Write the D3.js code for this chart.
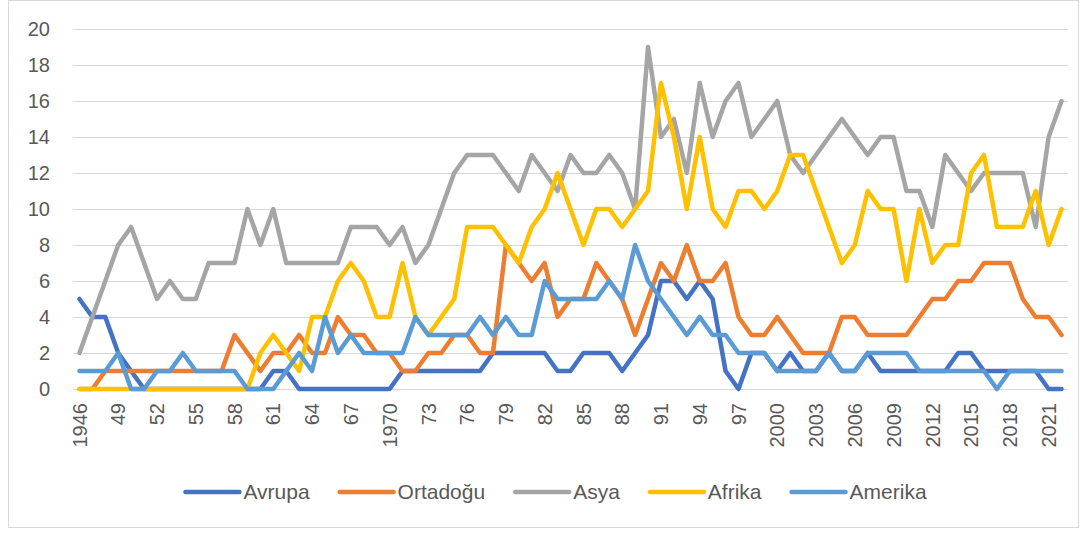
<!DOCTYPE html>
<html>
<head>
<meta charset="utf-8">
<script src="https://cdn.jsdelivr.net/npm/d3@7"></script>
<style>
  body { margin: 0; background: #fff; }
  text { font-family: "Liberation Sans", Arial, sans-serif; fill: #595959; }
</style>
</head>
<body>
<svg id="chart"></svg>
<script>
var width = 1089,
    height = 534;

// categories: one per year
var years = d3.range(1946, 2023);

// labels shown on the category axis (every 3rd year)
var tickLabels = ["1946", "49", "52", "55", "58", "61", "64", "67", "1970", "73", "76", "79", "82",
                  "85", "88", "91", "94", "97", "2000", "2003", "2006", "2009", "2012", "2015", "2018", "2021"];

var yTicks = [0, 2, 4, 6, 8, 10, 12, 14, 16, 18, 20];

var avrupa = [5,4,4,2,1,0,0,0,0,0, 0,0,0,0,0,1,1,0,0,0, 0,0,0,0,0,1,1,1,1,1,
              1,1,2,2,2,2,2,1,1,2, 2,2,1,2,3,6,6,5,6,5, 1,0,2,2,1,2,1,1,2,1,
              1,2,1,1,1,1,1,1,2,2, 1,1,1,1,1,0,0];
var ortadogu = [0,0,1,1,1,1,1,1,1,1, 1,1,3,2,1,2,2,3,2,2, 4,3,3,2,2,1,1,2,2,3,
                3,2,2,8,7,6,7,4,5,5, 7,6,5,3,5,7,6,8,6,6, 7,4,3,3,4,3,2,2,2,4,
                4,3,3,3,3,4,5,5,6,6, 7,7,7,5,4,4,3];
var asya = [2,4,6,8,9,7,5,6,5,5, 7,7,7,10,8,10,7,7,7,7, 7,9,9,9,8,9,7,8,10,12,
            13,13,13,12,11,13,12,11,13,12, 12,13,12,10,19,14,15,12,17,14, 16,17,14,15,16,13,12,13,14,15,
            14,13,14,14,11,11,9,13,12,11, 12,12,12,12,9,14,16];
var afrika = [0,0,0,0,0,0,0,0,0,0, 0,0,0,0,2,3,2,1,4,4, 6,7,6,4,4,7,4,3,4,5,
              9,9,9,8,7,9,10,12,10,8, 10,10,9,10,11,17,14,10,14,10, 9,11,11,10,11,13,13,11,9,7,
              8,11,10,10,6,10,7,8,8,12, 13,9,9,9,11,8,10];
var amerika = [1,1,1,2,0,0,1,1,2,1, 1,1,1,0,0,0,1,2,1,4, 2,3,2,2,2,2,4,3,3,3,
               3,4,3,4,3,3,6,5,5,5, 5,6,5,8,6,5,4,3,4,3, 3,2,2,2,1,1,1,1,2,1,
               1,2,2,2,2,1,1,1,1,1, 1,0,1,1,1,1,1];

var seriesNames = ["Avrupa", "Ortadoğu", "Asya", "Afrika", "Amerika"];
var seriesValues = [avrupa, ortadogu, asya, afrika, amerika];
var seriesColors = ["#4472C4", "#ED7D31", "#A5A5A5", "#FFC000", "#5B9BD5"];

var svg = d3.select("#chart")
    .attr("width", width)
    .attr("height", height);

svg.append("rect")
    .attr("x", 8.5).attr("y", 0.5)
    .attr("width", 1070).attr("height", 527)
    .style("fill", "#fff")
    .style("stroke", "#d9d9d9")
    .style("stroke-width", 1);

var plotLeft = 73, plotRight = 1068, plotTop = 29, plotBottom = 389;

var x = d3.scaleBand()
    .domain(years)
    .range([plotLeft, plotRight]);
function xc(year) { return x(year) + x.bandwidth() / 2; }

var y = d3.scaleLinear()
    .domain([0, 20])
    .range([plotBottom, plotTop]);

// gridlines
svg.append("g")
    .selectAll("line")
    .data(yTicks)
    .enter().append("line")
    .attr("x1", plotLeft).attr("x2", plotRight)
    .attr("y1", function(d) { return Math.round(y(d)) + 0.5; })
    .attr("y2", function(d) { return Math.round(y(d)) + 0.5; })
    .style("stroke", "#d9d9d9")
    .style("stroke-width", 1.2);

// y axis labels
var yAxis = d3.axisLeft(y).tickValues(yTicks).tickSize(0).tickPadding(0);
var yg = svg.append("g")
    .attr("transform", "translate(50,0)")
    .call(yAxis);
yg.select(".domain").remove();
yg.selectAll("text")
    .style("font-family", "'Liberation Sans', Arial, sans-serif")
    .style("font-size", "20px")
    .style("fill", "#595959");

// x axis labels, rotated
var tickYears = tickLabels.map(function(d, i) { return years[i * 3]; });
var xAxis = d3.axisBottom(x)
    .tickValues(tickYears)
    .tickSize(0)
    .tickFormat(function(d) { return tickLabels[tickYears.indexOf(d)]; });
var xg = svg.append("g")
    .attr("transform", "translate(0," + plotBottom + ")")
    .call(xAxis);
xg.select(".domain").remove();
xg.selectAll("text")
    .attr("transform", "rotate(-90)")
    .attr("x", -14)
    .attr("y", 0)
    .attr("dy", "0.36em")
    .style("text-anchor", "end")
    .style("font-family", "'Liberation Sans', Arial, sans-serif")
    .style("font-size", "20px")
    .style("fill", "#595959");

// lines
var line = d3.line()
    .x(function(d, i) { return xc(years[i]); })
    .y(function(d) { return y(d); });

svg.append("g")
    .selectAll("path")
    .data(seriesValues)
    .enter().append("path")
    .attr("d", line)
    .style("fill", "none")
    .style("stroke", function(d, i) { return seriesColors[i]; })
    .style("stroke-width", 4.5)
    .style("stroke-linejoin", "round")
    .style("stroke-linecap", "round");

// legend
var legend = svg.append("g");
var legendY = 492, lineLen = 54, textGap = 4, itemGap = 30;
var items = legend.selectAll("g")
    .data(seriesNames)
    .enter().append("g");
items.append("line")
    .attr("x1", 0).attr("x2", lineLen)
    .attr("y1", 0).attr("y2", 0)
    .style("stroke", function(d, i) { return seriesColors[i]; })
    .style("stroke-width", 4.5)
    .style("stroke-linecap", "round");
items.append("text")
    .attr("x", lineLen + textGap)
    .attr("dy", "0.35em")
    .style("font-size", "21px")
    .text(function(d) { return d; });

var offset = 0;
var widths = [];
items.each(function(d, i) {
    var w = lineLen + textGap + d3.select(this).select("text").node().getComputedTextLength();
    widths.push(w);
});
var total = d3.sum(widths) + itemGap * (widths.length - 1);
var startX = 556 - total / 2;
items.attr("transform", function(d, i) {
    var tx = startX + offset;
    offset += widths[i] + itemGap;
    return "translate(" + tx + "," + legendY + ")";
});
</script>
</body>
</html>
